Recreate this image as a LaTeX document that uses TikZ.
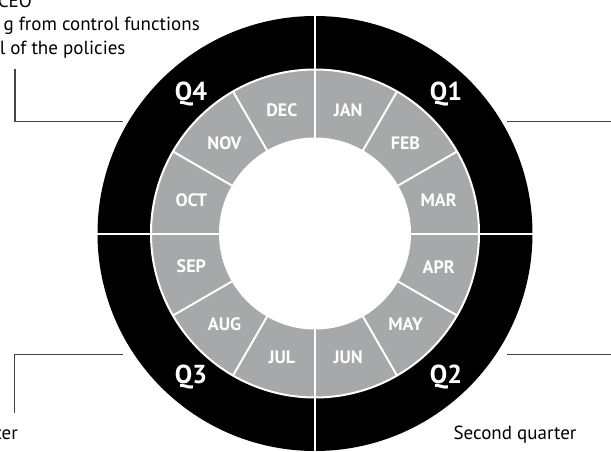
\documentclass[tikz,border=0pt]{standalone}
\usepackage{fontspec}
\setmainfont{PT Sans}
\definecolor{monthgray}{HTML}{A7A8AA}
\definecolor{leadgray}{HTML}{444444}
\tikzset{
  month/.style={text=white,inner sep=0pt,font=\bfseries\fontsize{18}{18}\selectfont},
  quarter/.style={text=white,inner sep=0pt,font=\bfseries\fontsize{26}{26}\selectfont},
  note/.style={inner sep=0pt,font=\fontsize{19}{22}\selectfont},
  leader/.style={draw=leadgray,line width=1.2pt},
  sep/.style={draw=white,line width=2pt}
}
\begin{document}
\begin{tikzpicture}[x=1pt,y=1pt]
  \useasboundingbox (-315,-217.5) rectangle (296,233.5);
  % rings
  \fill[black] (0,0) circle (217.5);
  \draw[sep,fill=monthgray] (0,0) circle (164);
  \foreach \a in {0,30,...,330}
    \draw[sep] (\a:96) -- (\a:164);
  \draw[sep] (-217.5,0) -- (217.5,0);
  \draw[sep] (0,-217.5) -- (0,217.5);
  \fill[white] (0,0) circle (96);
  % months
  \foreach \m [count=\i] in {JAN,FEB,MAR,APR,MAY,JUN,JUL,AUG,SEP,OCT,NOV,DEC}
    \node[month] (m\i) at ({105-30*\i}:128) {\m};
  % quarters
  \node[quarter] (q1) at (131,139) {Q1};
  \node[quarter] (q2) at (131,-144) {Q2};
  \node[quarter] (q3) at (-124,-144) {Q3};
  \node[quarter] (q4) at (-124,139) {Q4};
  % notes
  \node[note,anchor=base east] (n4a) at (-283,226.2) {CEO};
  \node[note,anchor=base east] (n4b) at (-115,202.8) {g from control functions};
  \node[note,anchor=base east] (n4c) at (-189.3,179.5) {l of the policies};
  \node[note,anchor=base east] (n3) at (-297,-205.5) {ter};
  \node[note,anchor=base] (n2) at (200,-205.5) {Second quarter};
  % leaders
  \coordinate (l4a) at (-300,164.5);
  \coordinate (l4b) at (-300,111.8);
  \coordinate (l4c) at (-192,111.8);
  \draw[leader] (l4a) -- (l4b) -- (l4c);
  \coordinate (l1a) at (192.3,111.8);
  \coordinate (l1b) at (296,111.8);
  \draw[leader] (l1a) -- (l1b);
  \coordinate (l3a) at (-300.3,-179.5);
  \coordinate (l3b) at (-300.3,-121.2);
  \coordinate (l3c) at (-192,-121.2);
  \draw[leader] (l3a) -- (l3b) -- (l3c);
  \coordinate (l2a) at (192.3,-121.2);
  \coordinate (l2b) at (296,-121.2);
  \draw[leader] (l2a) -- (l2b);
\end{tikzpicture}
\end{document}
